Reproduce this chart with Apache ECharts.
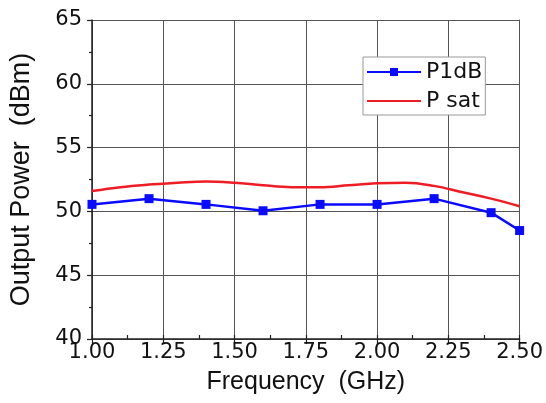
<!DOCTYPE html>
<html><head><meta charset="utf-8">
<script src="https://cdn.jsdelivr.net/npm/echarts@6/dist/echarts.min.js"></script>
<style>html,body{margin:0;padding:0;background:#fff}#c{width:546px;height:403px}</style>
</head><body><div id="c"></div>
<script>
const freqP1dB = [1.0, 1.2, 1.4, 1.6, 1.8, 2.0, 2.2, 2.4, 2.5];
const p1dB = [50.55, 51.0, 50.55, 50.05, 50.55, 50.55, 51.0, 49.9, 48.5];
const freqPsat = [1.0, 1.1, 1.2, 1.3, 1.4, 1.5, 1.6, 1.7, 1.8, 1.9, 2.0, 2.1, 2.2, 2.3, 2.4, 2.5];
const psat = [51.6, 51.9, 52.1, 52.25, 52.35, 52.25, 52.05, 51.9, 51.9, 52.05, 52.2, 52.25, 52.0, 51.5, 51.0, 50.4];
const xTicks = ['1.00','1.25','1.50','1.75','2.00','2.25','2.50'];
const yTicks = ['40','45','50','55','60','65'];

const font = 'Liberation Sans, Arial, sans-serif';
const numFont = 'DejaVu Sans, sans-serif';
const chart = echarts.init(document.getElementById('c'));
chart.setOption({
  animation: false,
  backgroundColor: '#fff',
  grid: {left: 91, right: 26, top: 20, bottom: 64},
  legend: {
    left: 363, top: 57, orient: 'vertical',
    itemWidth: 54, itemHeight: 10, itemGap: 7,
    padding: [4, 3, 3, 3],
    backgroundColor: '#fff', borderColor: '#999', borderWidth: 1,
    textStyle: {fontFamily: numFont, fontSize: 22, color: '#111', padding: [0,0,0,0]},
    data: ['P1dB', {name: 'P sat', itemStyle: {opacity: 0}}]
  },
  xAxis: [{
    type: 'value', min: 1.0, max: 2.5, interval: 0.25,
    name: 'Frequency  (GHz)', nameLocation: 'middle', nameGap: 31,
    nameTextStyle: {fontFamily: font, fontSize: 25, color: '#111'},
    axisLine: {show: true, lineStyle: {color: '#222', width: 1.5}},
    axisTick: {show: true, inside: false, length: 5, lineStyle: {color: '#222', width: 1.2}},
    axisLabel: {fontFamily: numFont, fontSize: 21, color: '#111', margin: 3,
      formatter: v => xTicks[Math.round((v - 1) / 0.25)] || ''},
    splitLine: {show: true, lineStyle: {color: '#555', width: 1}}
  }, {
    type: 'value', min: 1.0, max: 2.5, interval: 0.125, position: 'bottom',
    axisLine: {show: false}, axisLabel: {show: false}, splitLine: {show: false},
    axisTick: {show: true, inside: true, length: 4, lineStyle: {color: '#222', width: 1.2}}
  }],
  yAxis: [{
    type: 'value', min: 40, max: 65, interval: 5,
    name: 'Output Power  (dBm)', nameLocation: 'middle', nameGap: 57,
    nameTextStyle: {fontFamily: font, fontSize: 27, color: '#111'},
    axisLine: {show: true, lineStyle: {color: '#222', width: 1.5}},
    axisTick: {show: true, inside: false, length: 5, lineStyle: {color: '#222', width: 1.2}},
    minorTick: {show: true, splitNumber: 2, length: 3, lineStyle: {color: '#222', width: 1.2}},
    axisLabel: {fontFamily: numFont, fontSize: 21, color: '#111', margin: 10,
      formatter: v => yTicks[Math.round((v - 40) / 5)] || ''},
    splitLine: {show: true, lineStyle: {color: '#555', width: 1}}
  }, {
    type: 'value', min: 40, max: 65, interval: 5, position: 'right',
    axisLine: {show: true, lineStyle: {color: '#555', width: 1}},
    axisTick: {show: false}, axisLabel: {show: false}, splitLine: {show: false}
  }],
  series: [{
    name: 'P1dB', type: 'line', xAxisIndex: 0, yAxisIndex: 0,
    data: freqP1dB.map((f, i) => [f, p1dB[i]]),
    symbol: 'rect', symbolSize: 9, showSymbol: true,
    lineStyle: {color: '#0a0aff', width: 2.5},
    itemStyle: {color: '#0a0aff'},
    z: 3
  }, {
    name: 'P sat', type: 'line', xAxisIndex: 0, yAxisIndex: 0,
    data: freqPsat.map((f, i) => [f, psat[i]]),
    smooth: 0.4, symbol: 'none',
    lineStyle: {color: '#ee1c24', width: 2.5},
    itemStyle: {color: '#ee1c24'},
    z: 2
  }]
});
</script></body></html>
